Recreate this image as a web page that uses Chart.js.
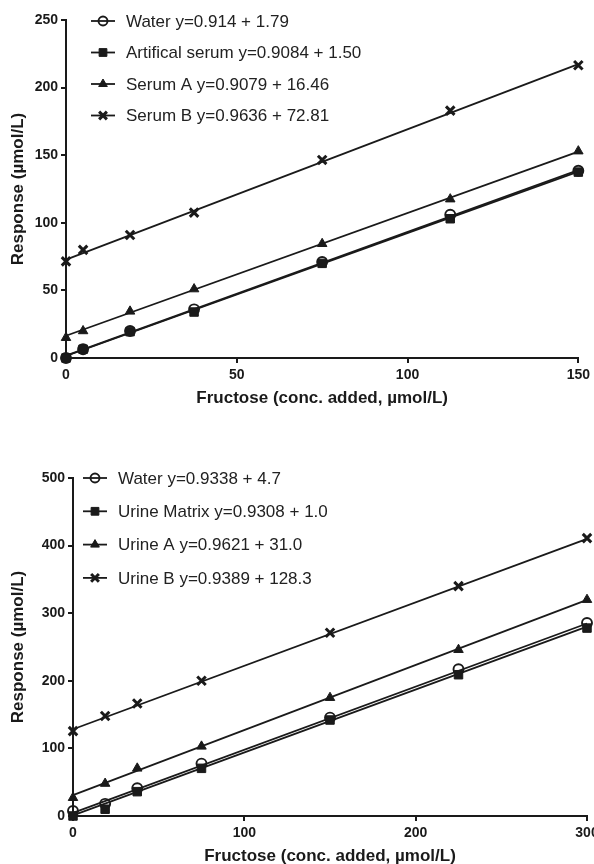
<!DOCTYPE html>
<html>
<head>
<meta charset="utf-8">
<script src="https://cdn.jsdelivr.net/npm/chart.js@4.4.1/dist/chart.umd.min.js"></script>
<style>
  html, body { margin: 0; padding: 0; background: #fff; overflow: hidden; width: 594px; height: 864px; }
  canvas { position: absolute; left: 0; }
  #serumChart { top: 0; }
  #urineChart { top: 458px; }
</style>
</head>
<body>
<canvas id="serumChart" width="594" height="410"></canvas>
<canvas id="urineChart" width="610" height="410"></canvas>
<script>
// --- serum panel (top) ---
const serumConc = [0, 5, 18.75, 37.5, 75, 112.5, 150];
const serumLabels = [
    'Water y=0.914 + 1.79',
    'Artifical serum y=0.9084 + 1.50',
    'Serum A y=0.9079 + 16.46',
    'Serum B y=0.9636 + 72.81'
];
const serumWater = [0, 6.5, 20, 36, 71, 106, 138.5];
const serumArtificial = [0, 6.5, 19.5, 34, 70, 103, 137.5];
const serumA = [15, 20, 34.5, 51, 84.5, 117.5, 153];
const serumB = [71.5, 80, 91, 107.5, 146.5, 183, 216.5];
// fitted lines: value at x=0 and at x=150
const serumFitStart = [1.79, 1.50, 16.46, 72.81];
const serumFitEnd = [138.9, 137.8, 152.6, 217.3];

// --- urine panel (bottom) ---
const urineConc = [0, 18.75, 37.5, 75, 150, 225, 300];
const urineLabels = [
    'Water y=0.9338 + 4.7',
    'Urine Matrix y=0.9308 + 1.0',
    'Urine A y=0.9621 + 31.0',
    'Urine B y=0.9389 + 128.3'
];
const urineWater = [7.5, 18, 41, 77.5, 145.5, 217, 285.5];
const urineMatrix = [0, 10, 36, 70.5, 142, 209, 278];
const urineA = [27, 48, 70.5, 103, 175, 246, 320];
const urineB = [125.5, 148, 166.5, 200, 271, 340, 411];
// fitted lines: value at x=0 and at x=300
const urineFitStart = [4.7, 1.0, 31.0, 128.3];
const urineFitEnd = [284.8, 280.2, 319.6, 410.0];

const ink = '#1a1a1a';
const fontFamily = '"Liberation Sans", Arial, Helvetica, sans-serif';

const markers = [
    { pointStyle: 'circle', radius: 5, fill: 'rgba(0,0,0,0)', borderWidth: 1.9 },
    { pointStyle: 'rect', radius: 6, fill: ink, borderWidth: 1 },
    { pointStyle: 'triangle', radius: 5.5, fill: ink, borderWidth: 1 },
    { pointStyle: 'crossRot', radius: 6, fill: ink, borderWidth: 3 }
];

// legend drawn inside the plot, GraphPad style
const insideLegend = {
    id: 'insideLegend',
    afterDatasetsDraw(chart, args, opts) {
        const ctx = chart.ctx;
        const labels = chart.data.datasets.filter(d => !d.isFit).map(d => d.label);
        ctx.save();
        labels.forEach((text, i) => {
            const y = opts.top + i * opts.rowGap;
            ctx.strokeStyle = ink;
            ctx.lineWidth = 1.8;
            ctx.beginPath();
            ctx.moveTo(opts.lineX0, y);
            ctx.lineTo(opts.lineX1, y);
            ctx.stroke();

            const m = markers[i];
            ctx.fillStyle = m.fill;
            ctx.strokeStyle = ink;
            ctx.lineWidth = m.borderWidth;
            Chart.helpers.drawPoint(ctx, {
                pointStyle: m.pointStyle, radius: m.radius - 0.5, rotation: 0, borderWidth: m.borderWidth
            }, (opts.lineX0 + opts.lineX1) / 2, y);

            ctx.fillStyle = '#222';
            ctx.font = '17px ' + fontFamily;
            ctx.textBaseline = 'middle';
            ctx.textAlign = 'left';
            ctx.fillText(text, opts.textX, y + 1);
        });
        ctx.restore();
    }
};

function buildDatasets(conc, labels, series, fitStart, fitEnd) {
    const xMin = conc[0];
    const xMax = conc[conc.length - 1];
    const sets = [];
    series.forEach((values, i) => {
        const m = markers[i];
        sets.push({
            label: labels[i],
            data: conc.map((x, j) => ({ x: x, y: values[j] })),
            showLine: false,
            pointStyle: m.pointStyle,
            pointRadius: m.radius,
            pointBackgroundColor: m.fill,
            pointBorderColor: ink,
            pointBorderWidth: m.borderWidth,
            clip: false,
            order: 4 - i
        });
        sets.push({
            label: labels[i] + ' fit',
            isFit: true,
            data: [{ x: xMin, y: fitStart[i] }, { x: xMax, y: fitEnd[i] }],
            showLine: true,
            pointRadius: 0,
            borderColor: ink,
            borderWidth: 1.8,
            clip: false,
            order: 10
        });
    });
    return sets;
}

function renderPanel(canvasId, cfg) {
    const tickFont = { family: fontFamily, size: 14, weight: 'bold' };
    const titleFont = { family: fontFamily, size: 17, weight: 'bold' };
    const axisGrid = { drawOnChartArea: false, drawTicks: true, tickLength: 5, color: ink, lineWidth: 2 };
    const axisBorder = { display: true, color: ink, width: 2 };

    return new Chart(document.getElementById(canvasId), {
        type: 'scatter',
        data: { datasets: cfg.datasets },
        plugins: [insideLegend],
        options: {
            responsive: false,
            animation: false,
            layout: { padding: { top: 20, right: cfg.padRight, bottom: 0, left: 0 } },
            plugins: {
                legend: { display: false },
                tooltip: { enabled: false },
                insideLegend: cfg.legend
            },
            scales: {
                x: {
                    type: 'linear',
                    min: 0,
                    max: cfg.xMax,
                    ticks: { stepSize: cfg.xStep, color: ink, font: tickFont, padding: 4 },
                    grid: axisGrid,
                    border: axisBorder,
                    title: {
                        display: true,
                        text: 'Fructose (conc. added, µmol/L)',
                        color: ink,
                        font: titleFont,
                        padding: { top: 1, bottom: 1 }
                    },
                    afterFit(scale) { scale.height = 52; }
                },
                y: {
                    type: 'linear',
                    min: 0,
                    max: cfg.yMax,
                    ticks: { stepSize: cfg.yStep, color: ink, font: tickFont, padding: 3 },
                    grid: axisGrid,
                    border: axisBorder,
                    title: {
                        display: true,
                        text: 'Response (µmol/L)',
                        color: ink,
                        font: titleFont,
                        padding: { top: 8, bottom: 0 }
                    },
                    afterFit(scale) { scale.width = cfg.yWidth; }
                }
            }
        }
    });
}

renderPanel('serumChart', {
    datasets: buildDatasets(serumConc, serumLabels,
        [serumWater, serumArtificial, serumA, serumB], serumFitStart, serumFitEnd),
    xMax: 150, xStep: 50, yMax: 250, yStep: 50,
    yWidth: 66, padRight: 15,
    legend: { top: 21, rowGap: 31.5, lineX0: 91, lineX1: 115, textX: 126 }
});

renderPanel('urineChart', {
    datasets: buildDatasets(urineConc, urineLabels,
        [urineWater, urineMatrix, urineA, urineB], urineFitStart, urineFitEnd),
    xMax: 300, xStep: 100, yMax: 500, yStep: 100,
    yWidth: 73, padRight: 23,
    legend: { top: 20, rowGap: 33.3, lineX0: 83, lineX1: 107, textX: 118 }
});
</script>
</body>
</html>
